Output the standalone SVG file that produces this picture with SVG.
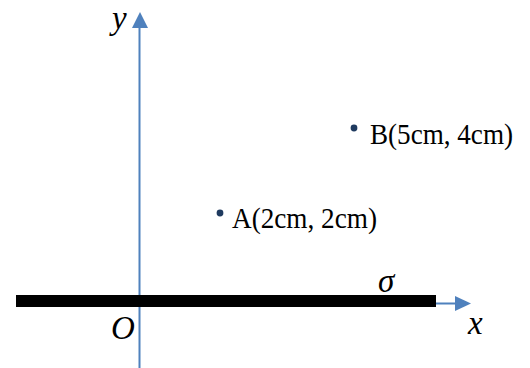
<svg xmlns="http://www.w3.org/2000/svg" width="530" height="368" viewBox="0 0 530 368">
<style>
.axis{stroke:#4f81bd;stroke-width:2;fill:none}
.head{fill:#4f81bd}
.var{font-family:"Liberation Serif",serif;font-style:italic;font-size:33px;fill:#000}
.lbl{font-family:"Liberation Serif",serif;font-size:29px;fill:#000}
.dot{fill:#1f3a5f}
</style>
<rect width="530" height="368" fill="#fff"/>
<g id="connectors">
<line class="axis" x1="139.5" y1="368" x2="139.5" y2="27"/>
<polygon class="head" points="132,28 148,28 140,12"/>
<line class="axis" x1="16" y1="303.5" x2="456" y2="303.5"/>
<polygon class="head" points="455,296 455,311 471,303.5"/>
</g>
<g id="plate">
<rect x="16" y="295" width="420" height="12" fill="#000"/>
<text class="var" x="378" y="292">σ</text>
</g>
<g id="labels">
<text class="var" x="112" y="29">y</text>
<text class="var" x="468" y="334">x</text>
<text class="var" x="111" y="339">O</text>
</g>
<g id="pointA">
<circle class="dot" cx="220" cy="213" r="3.4"/>
<text class="lbl" x="232" y="228" textLength="145" lengthAdjust="spacingAndGlyphs">A(2cm, 2cm)</text>
</g>
<g id="pointB">
<circle class="dot" cx="354" cy="128" r="3.4"/>
<text class="lbl" x="370" y="144" textLength="143" lengthAdjust="spacingAndGlyphs">B(5cm, 4cm)</text>
</g>
</svg>
